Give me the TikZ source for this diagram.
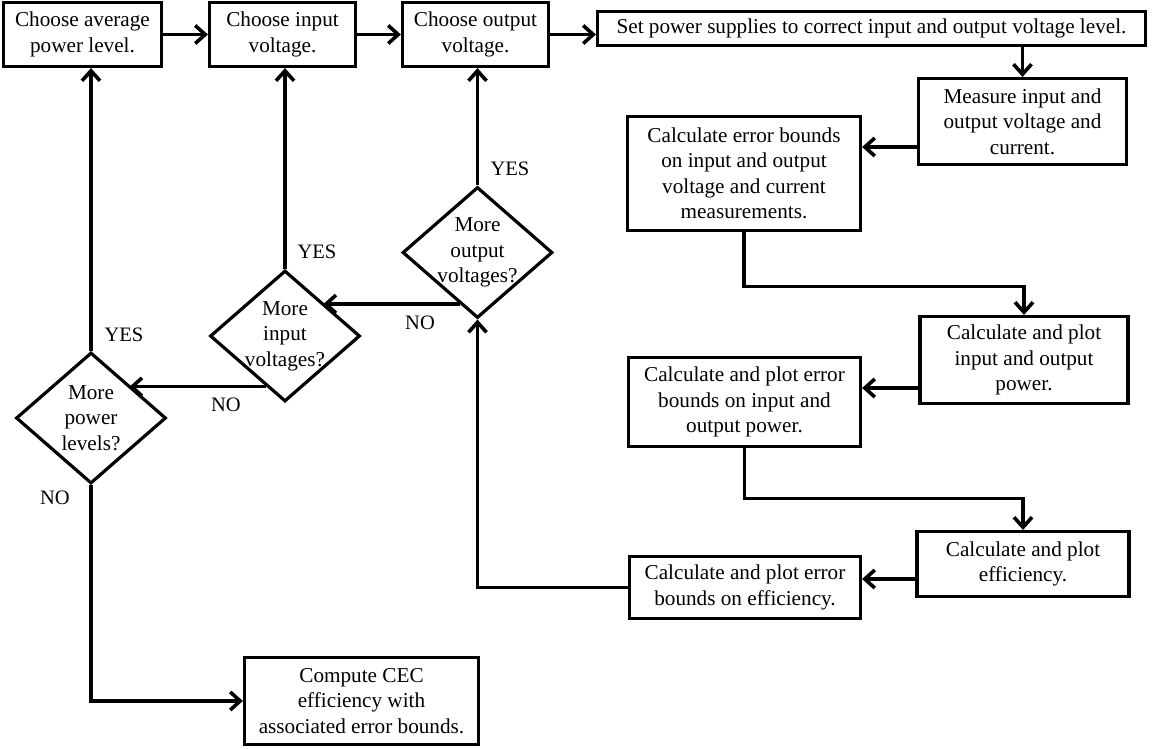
\documentclass[tikz,border=0pt]{standalone}
\usepackage{fontspec}
\setmainfont{Liberation Serif}
\usetikzlibrary{shapes.geometric, arrows.meta}

\tikzset{
  box/.style={draw, rectangle, line width=3.2pt, align=center, inner sep=0pt,
    font=\fontsize{21.2}{25.5}\selectfont},
  dia/.style={draw, diamond, line width=3.2pt, inner sep=0pt,
    minimum width=150pt, minimum height=131pt},
  dtxt/.style={align=center, inner sep=0pt, font=\fontsize{21.2}{25.5}\selectfont},
  lbl/.style={inner sep=0pt, font=\fontsize{20.5}{24}\selectfont},
  arr/.style={line width=3.2pt, -{Straight Barb[length=10pt,width=18pt,line width=3.6pt]}},
  wire/.style={line width=3.2pt}
}

\begin{document}
\begin{tikzpicture}[x=1pt,y=-1pt]
\useasboundingbox (0,0) rectangle (1157,748);

% top row
\node[box, minimum width=158pt, minimum height=64pt] (avg) at (82.5,34.5){Choose average\\power level.};
\node[box, minimum width=146pt, minimum height=64pt] (vin) at (282.5,34.5){Choose input\\voltage.};
\node[box, minimum width=146pt, minimum height=64pt] (vout) at (475.5,34.5){Choose output\\voltage.};
\node[box, minimum width=548pt, minimum height=34pt] (supply) at (871.5,28.5){Set power supplies to correct input and output voltage level.};

% right side
\node[box, minimum width=208pt, minimum height=86pt] (meas) at (1022.5,121.5){Measure input and\\output voltage and\\current.};
\node[box, minimum width=233pt, minimum height=114pt] (errvi) at (744,173.5){Calculate error bounds\\on input and output\\voltage and current\\measurements.};
\node[box, minimum width=208pt, minimum height=87pt] (pwr) at (1024,360){Calculate and plot\\input and output\\power.};
\node[box, minimum width=232pt, minimum height=89pt] (errpwr) at (744.5,402){Calculate and plot error\\bounds on input and\\output power.};
\node[box, minimum width=212pt, minimum height=65pt] (eff) at (1023,564){Calculate and plot\\efficiency.};
\node[box, minimum width=231pt, minimum height=62pt] (erreff) at (745,587.5){Calculate and plot error\\bounds on efficiency.};
\node[box, minimum width=234pt, minimum height=87pt] (cec) at (361.5,701){Compute CEC\\efficiency with\\associated error bounds.};

% decisions
\node[dia, label={[dtxt]center:{More\\output\\voltages?}}] (dout) at (477.5,252.5){};
\node[dia, label={[dtxt]center:{More\\input\\voltages?}}] (din) at (285,336){};
\node[dia, label={[dtxt]center:{More\\power\\levels?}}] (dpow) at (91,418){};

% yes / no
\node[lbl] (yesO) at (510,169){YES};
\node[lbl] (yesI) at (317,252){YES};
\node[lbl] (yesP) at (124,335){YES};
\node[lbl] (noO) at (420,323){NO};
\node[lbl] (noI) at (226,405){NO};
\node[lbl] (noP) at (55,498){NO};

% flow
\draw[arr] (avg) -- (vin);
\draw[arr] (vin) -- (vout);
\draw[arr] (vout.east) -- (vout.east -| supply.west);
\draw[arr] (supply.south -| meas.north) -- (meas.north);
\draw[arr] ([yshift=-25.5pt]meas.west) -- ([yshift=-25.5pt]meas.west -| errvi.east);
\draw[arr] (errvi.south) -- ++(0,54) -| (pwr.north);
\draw[arr] ([yshift=-28pt]pwr.west) -- ([yshift=-28pt]pwr.west -| errpwr.east);
\draw[arr] (errpwr.south) -- ++(0,50) -| (eff.north);
\draw[arr] ([yshift=-15pt]eff.west) -- ([yshift=-15pt]eff.west -| erreff.east);
\draw[arr] (erreff.west) -| (dout.south);

% loops back
\draw[arr] (dout.north) -- (dout.north |- vout.south);
\draw[arr] (din.north) -- (din.north |- vin.south);
\draw[arr] (dpow.north) -- (dpow.north |- avg.south);
\draw[arr] (dout.251) -- (dout.251 -| din.north east);
\draw[arr] (din.250) -- (din.250 -| dpow.north east);
\draw[arr] (dpow.south) |- (cec.west);
\end{tikzpicture}
\end{document}
